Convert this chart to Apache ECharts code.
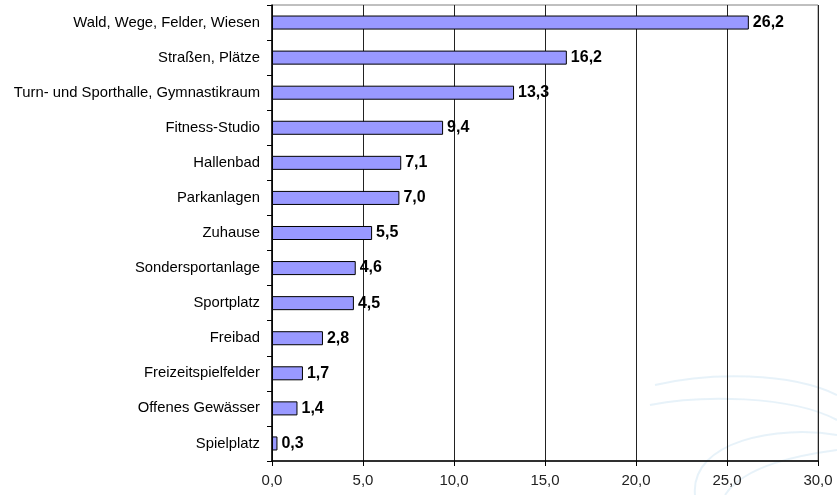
<!DOCTYPE html>
<html>
<head>
<meta charset="utf-8">
<script src="https://cdn.jsdelivr.net/npm/echarts@6/dist/echarts.min.js"></script>
<style>
  html, body { margin: 0; padding: 0; background: #fff; }
  #chart { width: 837px; height: 495px; }
</style>
</head>
<body>
<div id="chart"></div>
<script>
  // Kategorien von oben nach unten
  var categories = [
    'Wald, Wege, Felder, Wiesen',
    'Straßen, Plätze',
    'Turn- und Sporthalle, Gymnastikraum',
    'Fitness-Studio',
    'Hallenbad',
    'Parkanlagen',
    'Zuhause',
    'Sondersportanlage',
    'Sportplatz',
    'Freibad',
    'Freizeitspielfelder',
    'Offenes Gewässer',
    'Spielplatz'
  ];
  var values = [26.2, 16.2, 13.3, 9.4, 7.1, 7.0, 5.5, 4.6, 4.5, 2.8, 1.7, 1.4, 0.3];

  var chart = echarts.init(document.getElementById('chart'));

  function komma(v, d) {
    return Number(v).toFixed(d).replace('.', ',');
  }

  // blasser Hintergrundschwung unten rechts (nur Deko)
  var swirl = { stroke: 'rgba(170,210,235,0.28)', lineWidth: 2, fill: null };

  var option = {
    animation: false,
    textStyle: { fontFamily: 'Liberation Sans, Arial, sans-serif' },
    graphic: [
      { type: 'bezierCurve', z: -10, shape: { x1: 655, y1: 385, x2: 837, y2: 395, cpx1: 710, cpy1: 372, cpx2: 790, cpy2: 372 }, style: swirl },
      { type: 'bezierCurve', z: -10, shape: { x1: 650, y1: 405, x2: 837, y2: 420, cpx1: 700, cpy1: 395, cpx2: 790, cpy2: 395 }, style: swirl },
      { type: 'bezierCurve', z: -10, shape: { x1: 695, y1: 495, x2: 837, y2: 435, cpx1: 690, cpy1: 440, cpx2: 780, cpy2: 425 }, style: swirl },
      { type: 'bezierCurve', z: -10, shape: { x1: 725, y1: 495, x2: 837, y2: 450, cpx1: 745, cpy1: 465, cpx2: 800, cpy2: 455 }, style: swirl }
    ],
    grid: {
      left: 272,
      right: 19,
      top: 5,
      bottom: 34,
      show: true,
      borderColor: '#808080',
      borderWidth: 1
    },
    xAxis: {
      type: 'value',
      min: 0,
      max: 30,
      interval: 5,
      axisLine: { show: true, lineStyle: { color: '#000', width: 1.5 } },
      axisTick: { show: true, length: 5, lineStyle: { color: '#000' } },
      splitLine: { show: true, lineStyle: { color: '#222', width: 1 } },
      axisLabel: {
        color: '#222',
        fontSize: 15,
        margin: 12,
        formatter: function (v) { return komma(v, 1); }
      }
    },
    yAxis: {
      type: 'category',
      inverse: true,
      data: categories,
      axisLine: { show: true, lineStyle: { color: '#000', width: 1.5 } },
      axisTick: { show: true, length: 5, lineStyle: { color: '#000' } },
      axisLabel: { color: '#000', fontSize: 14.8, margin: 12 }
    },
    series: [{
      type: 'bar',
      data: values,
      barCategoryGap: '60%',
      itemStyle: { color: '#9999ff', borderColor: '#000', borderWidth: 1 },
      label: {
        show: true,
        position: 'right',
        distance: 4,
        color: '#000',
        fontSize: 16,
        fontWeight: 'bold',
        formatter: function (p) { return komma(p.value, 1); }
      }
    }]
  };

  chart.setOption(option);
</script>
</body>
</html>
